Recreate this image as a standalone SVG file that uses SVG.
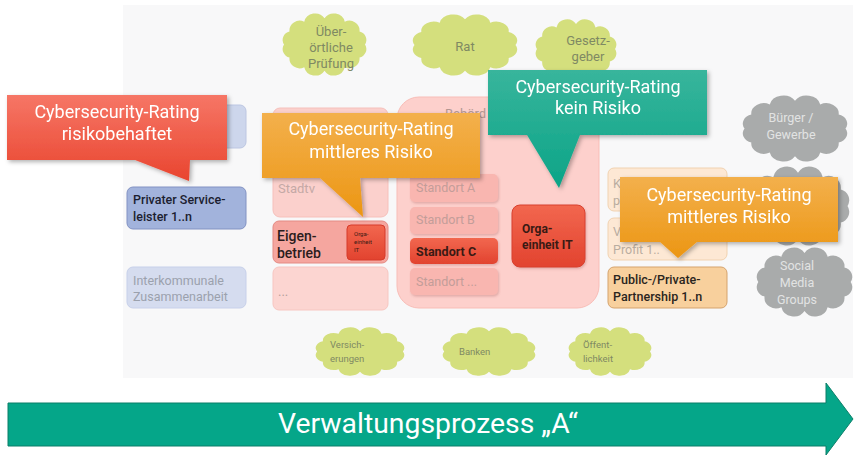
<svg xmlns="http://www.w3.org/2000/svg" xmlns:xlink="http://www.w3.org/1999/xlink" width="854" height="457" viewBox="0 0 854 457">
<defs>
<symbol id="cloud" viewBox="9 5.5 84 65" preserveAspectRatio="none">
<path d="M11,38 A9,9 0 0 1 16.4,24.5 A10,10 0 0 1 31,14.6 A11,11 0 0 1 51,11 A11,11 0 0 1 71,14.6 A10,10 0 0 1 85.6,24.5 A9,9 0 0 1 91,38 A9,9 0 0 1 85.6,51.5 A10,10 0 0 1 71,61.4 A11,11 0 0 1 51,65 A11,11 0 0 1 31,61.4 A10,10 0 0 1 16.4,51.5 A9,9 0 0 1 11,38 Z"/>
</symbol>
<linearGradient id="gRed" x1="0" y1="0" x2="0" y2="1"><stop offset="0" stop-color="#f67666"/><stop offset="1" stop-color="#e9452f"/></linearGradient>
<linearGradient id="gOrange" x1="0" y1="0" x2="0" y2="1"><stop offset="0" stop-color="#f3b04c"/><stop offset="1" stop-color="#ec9613"/></linearGradient>
<linearGradient id="gTeal" x1="0" y1="0" x2="0" y2="1"><stop offset="0" stop-color="#38b59c"/><stop offset="1" stop-color="#0ba487"/></linearGradient>
<linearGradient id="gOrga" x1="0" y1="0" x2="0" y2="1"><stop offset="0" stop-color="#f2674f"/><stop offset="1" stop-color="#e2432f"/></linearGradient>
<filter id="sh" x="-10%" y="-10%" width="130%" height="140%"><feDropShadow dx="2" dy="2" stdDeviation="2" flood-color="#000" flood-opacity="0.3"/></filter>
<filter id="shs" x="-10%" y="-10%" width="130%" height="140%"><feDropShadow dx="1" dy="1.5" stdDeviation="1.2" flood-color="#a05050" flood-opacity="0.3"/></filter>
</defs>
<style>
text{font-family:Roboto,"Liberation Sans",sans-serif}
.cg{fill:#d4df7d}
.cgr{fill:#a9abab}
.ct{fill:#7f8963;font-size:13px;text-anchor:middle}
.cts{fill:#7f8963;font-size:9.5px}
.cw{fill:#e2e3e3;font-size:12.5px;text-anchor:middle}
.bt{font-size:12.5px}
.bd{font-weight:500}
.co{fill:#fff;font-size:18px;text-anchor:middle}
.sa{fill:#f9b6b0;filter:url(#shs)}
.st{fill:#c39d99;font-size:12.5px}
</style>
<rect x="123" y="5" width="730" height="373" fill="#f8f8f9"/>

<g id="cloud-pruefung"><use xlink:href="#cloud" href="#cloud" x="282" y="13" width="85" height="63" class="cg"/>
<text class="ct" x="331" y="36">Über-</text><text class="ct" x="331" y="52">örtliche</text><text class="ct" x="331" y="68">Prüfung</text></g>
<g id="cloud-rat"><use xlink:href="#cloud" href="#cloud" x="412" y="14" width="106" height="62" class="cg"/>
<text class="ct" x="465" y="51">Rat</text></g>
<g id="cloud-gesetzgeber"><use xlink:href="#cloud" href="#cloud" x="535" y="19" width="82" height="60" class="cg"/>
<text class="ct" x="588" y="45">Gesetz-</text><text class="ct" x="588" y="61">geber</text></g>

<g id="cloud-buerger"><use xlink:href="#cloud" href="#cloud" x="742" y="95" width="106" height="67" class="cgr"/>
<text class="cw" x="791" y="122">Bürger /</text><text class="cw" x="791" y="139">Gewerbe</text></g>
<g id="cloud-grey-mid"><use xlink:href="#cloud" href="#cloud" x="746" y="166" width="104" height="80" class="cgr"/></g>
<g id="cloud-social"><use xlink:href="#cloud" href="#cloud" x="756" y="247" width="97" height="70" class="cgr"/>
<text class="cw" x="797" y="270">Social</text><text class="cw" x="797" y="287">Media</text><text class="cw" x="797" y="304">Groups</text></g>

<g id="cloud-versicherungen"><use xlink:href="#cloud" href="#cloud" x="315" y="327" width="90" height="49" class="cg"/>
<text class="cts" x="330" y="348">Versich-</text><text class="cts" x="330" y="362">erungen</text></g>
<g id="cloud-banken"><use xlink:href="#cloud" href="#cloud" x="442" y="327" width="94" height="49" class="cg"/>
<text class="cts" x="459" y="355">Banken</text></g>
<g id="cloud-oeffentlichkeit"><use xlink:href="#cloud" href="#cloud" x="568" y="327" width="84" height="49" class="cg"/>
<text class="cts" x="583" y="348">Öffent-</text><text class="cts" x="583" y="362">lichkeit</text></g>

<g id="box-blue-top"><rect x="127" y="105" width="119" height="43" rx="6" fill="#cdd6ec" stroke="#bcc6e2"/></g>
<g id="box-privater"><rect x="127" y="187" width="119" height="42" rx="6" fill="#a2b3dc" stroke="#8292c3"/>
<text class="bt bd" x="133" y="204" fill="#1c1e30">Privater Service-</text><text class="bt bd" x="133" y="221" fill="#1c1e30">leister 1..n</text></g>
<g id="box-interkommunal"><rect x="127" y="267" width="119" height="41" rx="6" fill="#d5dcef" stroke="#c7d0ea"/>
<text class="bt" x="133" y="285" fill="#9ba1ad">Interkommunale</text><text class="bt" x="133" y="301" fill="#9ba1ad">Zusammenarbeit</text></g>

<g id="box-stadtv"><rect x="273" y="108" width="115" height="109" rx="7" fill="#fbd0cc" stroke="#f6c0bb"/>
<text x="278" y="193" font-size="13" fill="#c4a9a6">Stadtv</text></g>
<g id="box-eigenbetrieb"><rect x="273" y="221" width="115" height="42" rx="6" fill="#f5a69f" stroke="#e48a83"/>
<text class="bd" x="277" y="241" font-size="14" fill="#2a1c1c">Eigen-</text><text class="bd" x="277" y="258" font-size="14" fill="#2a1c1c">betrieb</text>
<g id="box-orga-small"><rect x="347" y="225" width="38" height="35" rx="4" fill="url(#gOrga)" stroke="#d63a2a"/>
<text x="354" y="236" font-size="6" fill="#3a1a14">Orga-</text><text x="354" y="244" font-size="6" fill="#3a1a14">einheit</text><text x="354" y="252" font-size="6" fill="#3a1a14">IT</text></g></g>
<g id="box-dots"><rect x="273" y="267" width="115" height="43" rx="6" fill="#fcd5d1" stroke="#f7c6c1"/>
<text x="278" y="296" font-size="13" fill="#b5a09d">...</text></g>

<g id="box-behoerde"><rect x="397" y="97" width="202" height="211" rx="22" fill="#fdd0cc" stroke="#f8bdb7"/>
<text x="445" y="118" font-size="13" fill="#b49893">Behörd</text>
<g id="standort-a"><rect class="sa" x="410" y="174" width="88" height="28" rx="5"/><text class="st" x="416" y="192">Standort A</text></g>
<g id="standort-b"><rect class="sa" x="410" y="207" width="88" height="27" rx="5"/><text class="st" x="416" y="224">Standort B</text></g>
<g id="standort-c"><rect x="410" y="238" width="88" height="26" rx="5" fill="url(#gOrga)" filter="url(#shs)"/><text x="416" y="256" font-size="12.5" font-weight="bold" fill="#3a1a14">Standort C</text></g>
<g id="standort-dots"><rect class="sa" x="410" y="268" width="88" height="27" rx="5"/><text class="st" x="416" y="286">Standort ...</text></g>
<g id="box-orga-it"><rect x="512" y="205" width="73" height="62" rx="8" fill="url(#gOrga)" stroke="#d8412e" filter="url(#shs)"/>
<text x="522" y="233" font-size="12" font-weight="bold" fill="#3a1a14">Orga-</text><text x="522" y="249" font-size="12" font-weight="bold" fill="#3a1a14">einheit IT</text></g></g>

<g id="box-k"><rect x="608" y="168" width="119" height="43" rx="6" fill="#fde8d4" stroke="#f1d2b0"/>
<text x="613" y="188" font-size="12.5" fill="#b9ada0">K</text><text x="613" y="205" font-size="12.5" fill="#b9ada0">p</text></g>
<g id="box-v"><rect x="608" y="218" width="119" height="42" rx="6" fill="#fde8d4" stroke="#f1d2b0"/>
<text x="613" y="236" font-size="12.5" fill="#b9ada0">V</text><text x="613" y="254" font-size="12.5" fill="#b9ada0">Profit 1..</text></g>
<g id="box-ppp"><rect x="608" y="267" width="119" height="41" rx="6" fill="#f8d09d" stroke="#d5a36d"/>
<text class="bt bd" x="613" y="284" fill="#2a2520">Public-/Private-</text><text class="bt bd" x="613" y="301" fill="#2a2520">Partnership 1..n</text></g>

<g id="callout-risikobehaftet" filter="url(#sh)"><path d="M7,95 H227 V160 H190 L189,181 L135,160 H7 Z" fill="url(#gRed)"/>
<text class="co" x="117" y="118">Cybersecurity-Rating</text><text class="co" x="117" y="140">risikobehaftet</text></g>
<g id="callout-mittel-1" filter="url(#sh)"><path d="M262,113 H480 V178 H360 L363,217 L320,178 H262 Z" fill="url(#gOrange)"/>
<text class="co" x="371" y="135">Cybersecurity-Rating</text><text class="co" x="371" y="158">mittleres Risiko</text></g>
<g id="callout-kein" filter="url(#sh)"><path d="M488,70 H707 V135 H580 L559,188 L527,135 H488 Z" fill="url(#gTeal)"/>
<text class="co" x="598" y="93">Cybersecurity-Rating</text><text class="co" x="598" y="114">kein Risiko</text></g>
<g id="callout-mittel-2" filter="url(#sh)"><path d="M620,177 H838 V242 H697 L678,258 L660,242 H620 Z" fill="url(#gOrange)"/>
<text class="co" x="729" y="201">Cybersecurity-Rating</text><text class="co" x="729" y="223">mittleres Risiko</text></g>

<g id="prozess-arrow"><path d="M8,403 H826 V383 L853,419 L826,455 V446 H8 Z" fill="#05a689" stroke="#0a7f69" stroke-width="1"/>
<text x="428" y="433" font-size="27" fill="#fff" text-anchor="middle" textLength="300" lengthAdjust="spacingAndGlyphs">Verwaltungsprozess „A“</text></g>
</svg>
